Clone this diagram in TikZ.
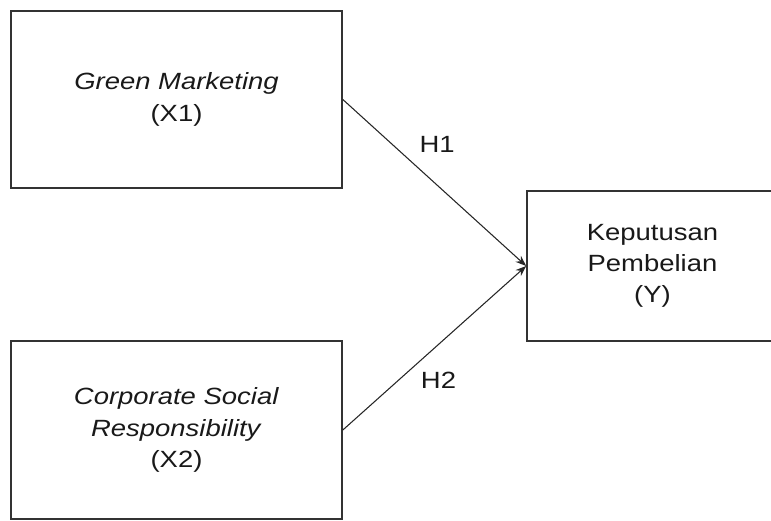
\documentclass[tikz,border=0pt]{standalone}
\usepackage{fontspec}
\setmainfont{Liberation Sans}[FakeStretch=1.17]
\usepackage{tikz}
\usetikzlibrary{positioning,arrows.meta}
\usepackage{xcolor}

\begin{document}
\begin{tikzpicture}[x=0.75pt,y=-0.75pt,>={Stealth[length=8pt,width=6pt]},
  varbox/.style={draw=black!80,line width=1.5pt,align=center,text=black!90,
    font=\fontsize{17.6pt}{23.5pt}\selectfont,minimum width=248pt,minimum height=133pt},
  hyp/.style={text=black!90,font=\fontsize{17.6pt}{23.5pt}\selectfont}]
\useasboundingbox (0,0) rectangle (771,521);
\node[varbox] (gm) at (176.5,99.5) {\textit{Green Marketing}\\(X1)};
\node[varbox] (csr) at (176.5,430) {\textit{Corporate Social}\\\textit{Responsibility}\\(X2)};
\node[varbox,minimum width=188pt,minimum height=112.5pt] (kp) at (652.5,266) {Keputusan\\Pembelian\\(Y)};
\draw[->,line width=0.8pt,black!85] (gm.east) -- (kp.west) node[hyp,midway,xshift=2pt,yshift=29pt]{H1};
\draw[->,line width=0.8pt,black!85] (csr.east) -- (kp.west) node[hyp,midway,xshift=3pt,yshift=-24pt]{H2};
\end{tikzpicture}
\end{document}
